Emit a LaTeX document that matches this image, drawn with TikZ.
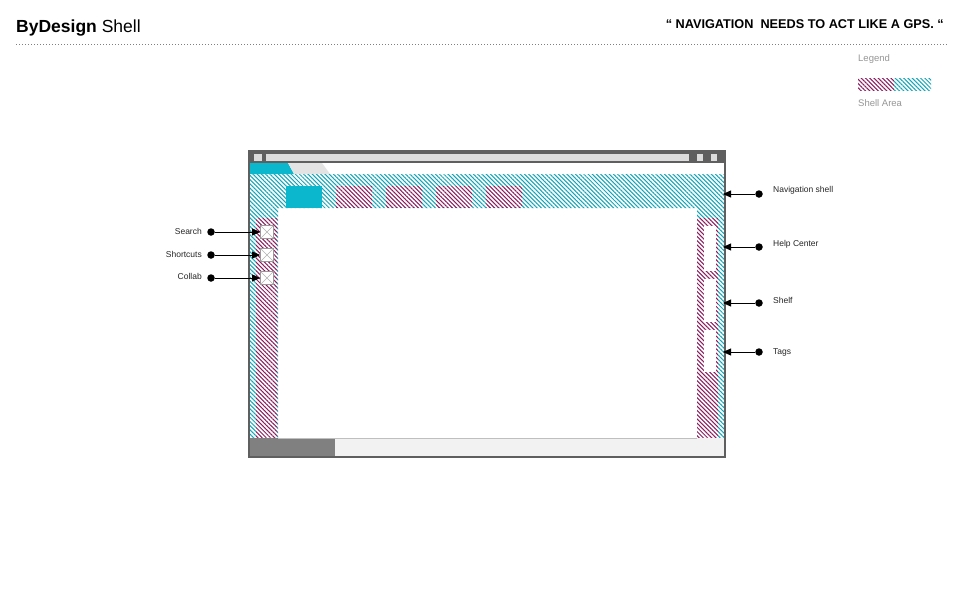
\documentclass[tikz,border=0pt]{standalone}
\usepackage{fontspec}
\setmainfont{Liberation Sans}
\usetikzlibrary{patterns.meta,arrows.meta}
\definecolor{hatchC}{RGB}{20,165,185}
\definecolor{hatchM}{RGB}{140,30,95}
\definecolor{tabC}{RGB}{11,183,204}
\definecolor{frameG}{RGB}{95,95,95}
\definecolor{barG}{RGB}{220,220,220}
\definecolor{legG}{RGB}{150,150,150}
\definecolor{darkbar}{RGB}{128,128,128}
\tikzset{
  hatchcyan/.style={pattern={Lines[angle=-45,distance=3pt,line width=1.05pt]},pattern color=hatchC},
  hatchmag/.style={pattern={Lines[angle=-45,distance=3pt,line width=1.05pt]},pattern color=hatchM},
  icon/.style={draw=gray!80,line width=0.7pt,fill=white,minimum size=13pt,inner sep=0pt,
    path picture={\draw[gray!60,line width=0.5pt] (path picture bounding box.north west)--(path picture bounding box.south east)
      (path picture bounding box.north east)--(path picture bounding box.south west);}},
  dot/.style={circle,fill=black,inner sep=0pt,minimum size=7.5pt},
  arr/.style={line width=0.8pt,-{Triangle[length=8pt,width=7pt]}},
  lbl/.style={font=\fontsize{8.5}{10}\selectfont,inner sep=0pt,text=black!85},
}
\begin{document}
\begin{tikzpicture}[x=1pt,y=-1pt]
\useasboundingbox[fill=white] (0,0) rectangle (960,600);
% header
\node[anchor=base west,inner sep=0pt,font=\fontsize{17.5}{20}\selectfont] (title) at (16,32) {\textbf{ByDesign} Shell};
\node[anchor=base east,inner sep=0pt,font=\fontsize{12.7}{14}\selectfont\bfseries] (quote) at (944,28) {“ NAVIGATION\ \ NEEDS TO ACT LIKE A GPS. “};
\draw[gray,line width=0.6pt,dash pattern=on 1.2pt off 1.8pt] (16,44) -- (947,44);
% legend
\node[anchor=base west,inner sep=0pt,font=\fontsize{9.5}{11}\selectfont,text=legG] (legend) at (858,61) {Legend};
\fill[hatchmag] (858,78) rectangle (894,90);
\fill[hatchcyan] (894,78) rectangle (931,90);
\node[anchor=base west,inner sep=0pt,font=\fontsize{9.5}{11}\selectfont,text=legG] (shellarea) at (858,106) {Shell Area};
% browser frame
\fill[frameG] (248,150) rectangle (726,458);
\fill[white] (250,163) rectangle (724,456);
\fill[barG] (266,154) rectangle (689,161);
\fill[barG] (254,154) rectangle (262,161);
\fill[barG] (697,154) rectangle (703,161);
\fill[barG] (711,154) rectangle (717,161);
% tabs
\fill[tabC] (250,163) -- (288,163) -- (294,174) -- (250,174) -- cycle;
\fill[gray!22] (288,163) -- (322,163) -- (330,174) -- (294,174) -- cycle;
% navigation shell hatched
\fill[hatchcyan] (250,174) -- (724,174) -- (724,438) -- (697,438) -- (697,208) -- (278,208) -- (278,438) -- (250,438) -- cycle;
\fill[white] (256,218) rectangle (277,438);
\fill[hatchmag] (256,218) rectangle (277,438);
\fill[white] (697,218) rectangle (718,438);
\fill[hatchmag] (697,218) rectangle (718,438);
\fill[white] (704,226) rectangle (716,271);
\fill[white] (704,279) rectangle (716,322);
\fill[white] (704,330) rectangle (716,372);
% top tabs
\fill[tabC] (286,186) rectangle (322,208);
\foreach \xa in {336,386,436,486}{
  \fill[white] (\xa,186) rectangle ({\xa+36},207);
  \fill[hatchmag] (\xa,186) rectangle ({\xa+36},207);
}
% bottom bar
\fill[darkbar] (250,438) rectangle (335,456);
\fill[gray!10] (335,438) rectangle (724,456);
\draw[gray!50,line width=0.6pt] (278,438) -- (697,438);
% left icons
\node[icon] (search) at (267,232) {};
\node[icon] (shortcuts) at (267,255) {};
\node[icon] (collab) at (267,278) {};
% left annotations
\node[dot] (dS) at (211,232) {};
\node[dot] (dSc) at (211,255) {};
\node[dot] (dC) at (211,278) {};
\draw[arr] (dS) -- (search.west);
\draw[arr] (dSc) -- (shortcuts.west);
\draw[arr] (dC) -- (collab.west);
\node[lbl,anchor=east] (lS) at (202,231) {Search};
\node[lbl,anchor=east] (lSc) at (202,254) {Shortcuts};
\node[lbl,anchor=east] (lC) at (202,276) {Collab};
% right annotations
\coordinate (tN) at (723,194);
\coordinate (tH) at (723,247);
\coordinate (tSh) at (723,303);
\coordinate (tT) at (723,352);
\node[dot] (dN) at (759,194) {};
\node[dot] (dH) at (759,247) {};
\node[dot] (dSh) at (759,303) {};
\node[dot] (dT) at (759,352) {};
\draw[arr] (dN) -- (tN);
\draw[arr] (dH) -- (tH);
\draw[arr] (dSh) -- (tSh);
\draw[arr] (dT) -- (tT);
\node[lbl,anchor=west] (lN) at (773,190) {Navigation\ shell};
\node[lbl,anchor=west] (lH) at (773,244) {Help Center};
\node[lbl,anchor=west] (lSh) at (773,300) {Shelf};
\node[lbl,anchor=west] (lT) at (773,352) {Tags};
\end{tikzpicture}
\end{document}
